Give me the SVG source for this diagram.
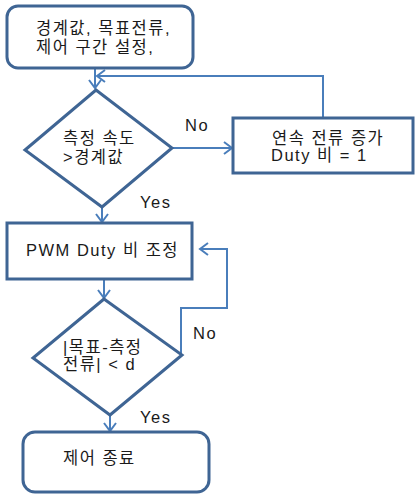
<svg xmlns="http://www.w3.org/2000/svg" width="415" height="494" viewBox="0 0 415 494">
<style>
.shape{fill:#fff;stroke:#3f6594;stroke-width:3}
.conn{fill:none;stroke:#4a7ebb;stroke-width:2}
text{font-family:"Liberation Sans","Noto Sans CJK KR",sans-serif;font-size:16.5px;fill:#1a1a1a;letter-spacing:1.5px}
</style>
<defs>
<marker id="arr" markerWidth="14" markerHeight="14" refX="10" refY="7" orient="auto" markerUnits="userSpaceOnUse">
<path d="M2,1 L10,7 L2,13" fill="none" stroke="#4a7ebb" stroke-width="2"/>
</marker>
</defs>
<rect width="415" height="494" fill="#fff"/>
<g id="connectors">
<line class="conn" x1="95" y1="68" x2="95" y2="88" marker-end="url(#arr)"/>
<polyline class="conn" points="323,118 323,76 97,76" marker-end="url(#arr)"/>
<line class="conn" x1="172" y1="148" x2="232" y2="148" marker-end="url(#arr)"/>
<line class="conn" x1="102" y1="207" x2="102" y2="222" marker-end="url(#arr)"/>
<line class="conn" x1="104" y1="279" x2="104" y2="298" marker-end="url(#arr)"/>
<polyline class="conn" points="181,355 181,308 227,308 227,249 200,249" marker-end="url(#arr)"/>
<line class="conn" x1="110" y1="415" x2="110" y2="431" marker-end="url(#arr)"/>
</g>
<g id="start">
<rect class="shape" x="7" y="6" width="186" height="62" rx="11"/>
<text x="36" y="34">경계값, 목표전류,</text>
<text x="36" y="53">제어 구간 설정,</text>
</g>
<g id="decision1">
<polygon class="shape" points="96,90 172,148 102,207 25,150"/>
<text x="63" y="144">측정 속도</text>
<text x="63" y="163">&gt;경계값</text>
</g>
<g id="increase">
<rect class="shape" x="233" y="118" width="180" height="55"/>
<text x="272" y="144">연속 전류 증가</text>
<text x="271" y="161">Duty 비 = 1</text>
</g>
<g id="pwm">
<rect class="shape" x="7" y="223" width="185" height="56"/>
<text x="26" y="256">PWM Duty 비 조정</text>
</g>
<g id="decision2">
<polygon class="shape" points="104,299 182,355 110,415 33,358"/>
<text x="63" y="353">|목표-측정</text>
<text x="63" y="370">전류| &lt; d</text>
</g>
<g id="end">
<rect class="shape" x="23" y="432" width="186" height="60" rx="12"/>
<text x="63" y="464">제어 종료</text>
</g>
<g id="labels">
<text x="185" y="131">No</text>
<text x="140" y="208">Yes</text>
<text x="193" y="339">No</text>
<text x="140" y="423">Yes</text>
</g>
</svg>
